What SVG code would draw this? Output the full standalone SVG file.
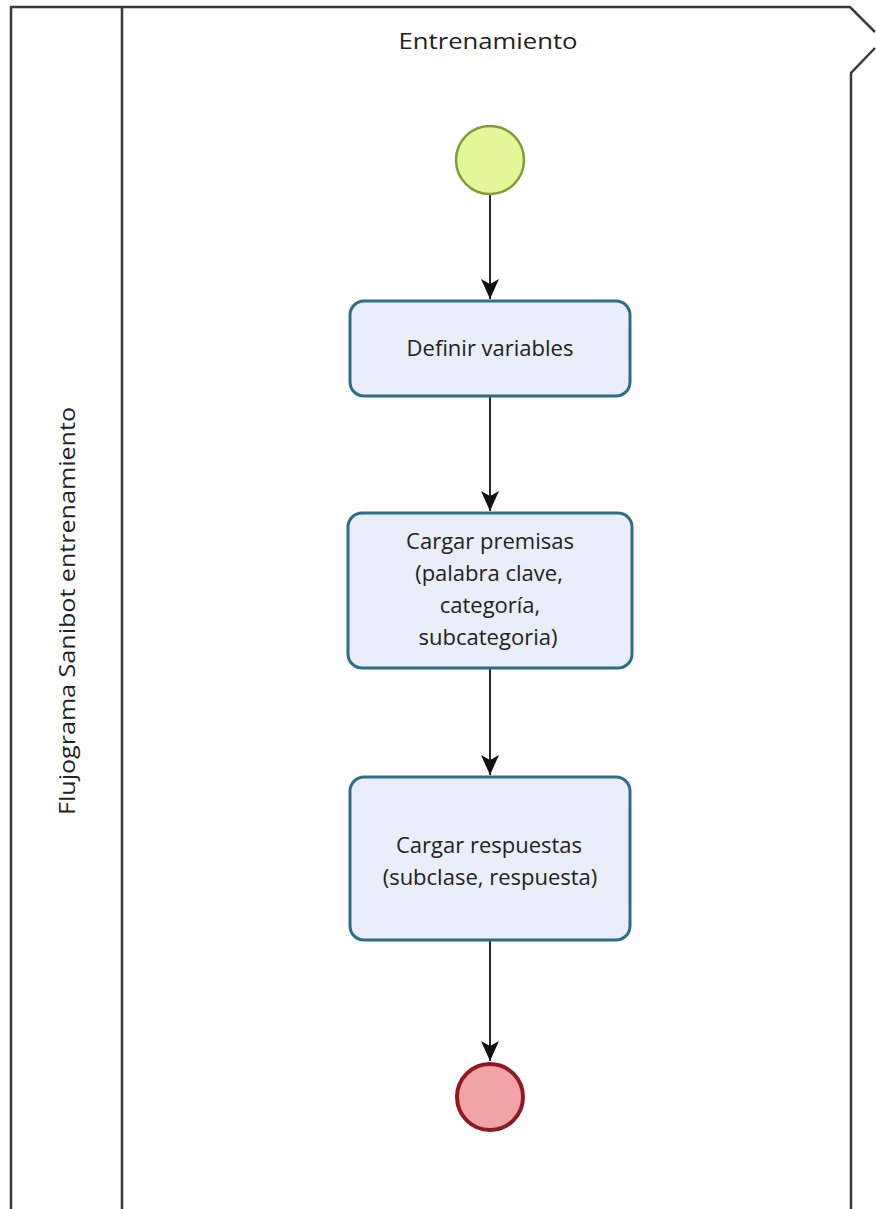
<svg xmlns="http://www.w3.org/2000/svg" width="876" height="1209" viewBox="0 0 876 1209">
<style>
.lane{fill:none;stroke:#3a3a3a;stroke-width:2.5}
.task{fill:#e9eefa;stroke:#2f6f86;stroke-width:3}
.lbl{font-family:"Open Sans","DejaVu Sans",sans-serif;font-size:22px;fill:#222;text-anchor:middle}
.conn{stroke:#111;stroke-width:1.8;fill:none;marker-end:url(#arr)}
</style>
<defs>
<marker id="arr" markerWidth="22" markerHeight="20" refX="20" refY="9" orient="auto" markerUnits="userSpaceOnUse">
<path d="M0,0 L20,9 L0,18 L5,9 Z" fill="#111"/>
</marker>
</defs>
<g id="pool">
<path class="lane" d="M11,1209 L11,7 L850,7 L875,32"/>
<path class="lane" d="M875,48 L851,73 L851,1209"/>
<line class="lane" x1="122" y1="7" x2="122" y2="1209"/>
<text class="lbl" x="488" y="49" textLength="179" lengthAdjust="spacingAndGlyphs">Entrenamiento</text>
<text class="lbl" transform="translate(75,611) rotate(-90)" font-size="21" textLength="408" lengthAdjust="spacingAndGlyphs">Flujograma Sanibot entrenamiento</text>
</g>
<g id="connectors">
<line class="conn" x1="490" y1="195" x2="490" y2="299"/>
<line class="conn" x1="490" y1="397" x2="490" y2="511"/>
<line class="conn" x1="490" y1="669" x2="490" y2="775"/>
<line class="conn" x1="490" y1="941" x2="490" y2="1061"/>
</g>
<g id="start">
<circle cx="490" cy="160" r="34" fill="#e6f79a" stroke="#7e9d3c" stroke-width="2.5"/>
</g>
<g id="task1">
<rect class="task" x="350" y="301" width="280" height="95" rx="14"/>
<text class="lbl" x="490" y="356">Definir variables</text>
</g>
<g id="task2">
<rect class="task" x="348" y="513" width="284" height="155" rx="14"/>
<text class="lbl" x="490" y="549">Cargar premisas</text>
<text class="lbl" x="489" y="581">(palabra clave,</text>
<text class="lbl" x="490" y="613">categoría,</text>
<text class="lbl" x="488" y="645">subcategoria)</text>
</g>
<g id="task3">
<rect class="task" x="350" y="777" width="280" height="163" rx="14"/>
<text class="lbl" x="489" y="853">Cargar respuestas</text>
<text class="lbl" x="490" y="885">(subclase, respuesta)</text>
</g>
<g id="end">
<circle cx="490" cy="1097" r="33" fill="#f2a3a6" stroke="#8e1a22" stroke-width="4"/>
</g>
</svg>
